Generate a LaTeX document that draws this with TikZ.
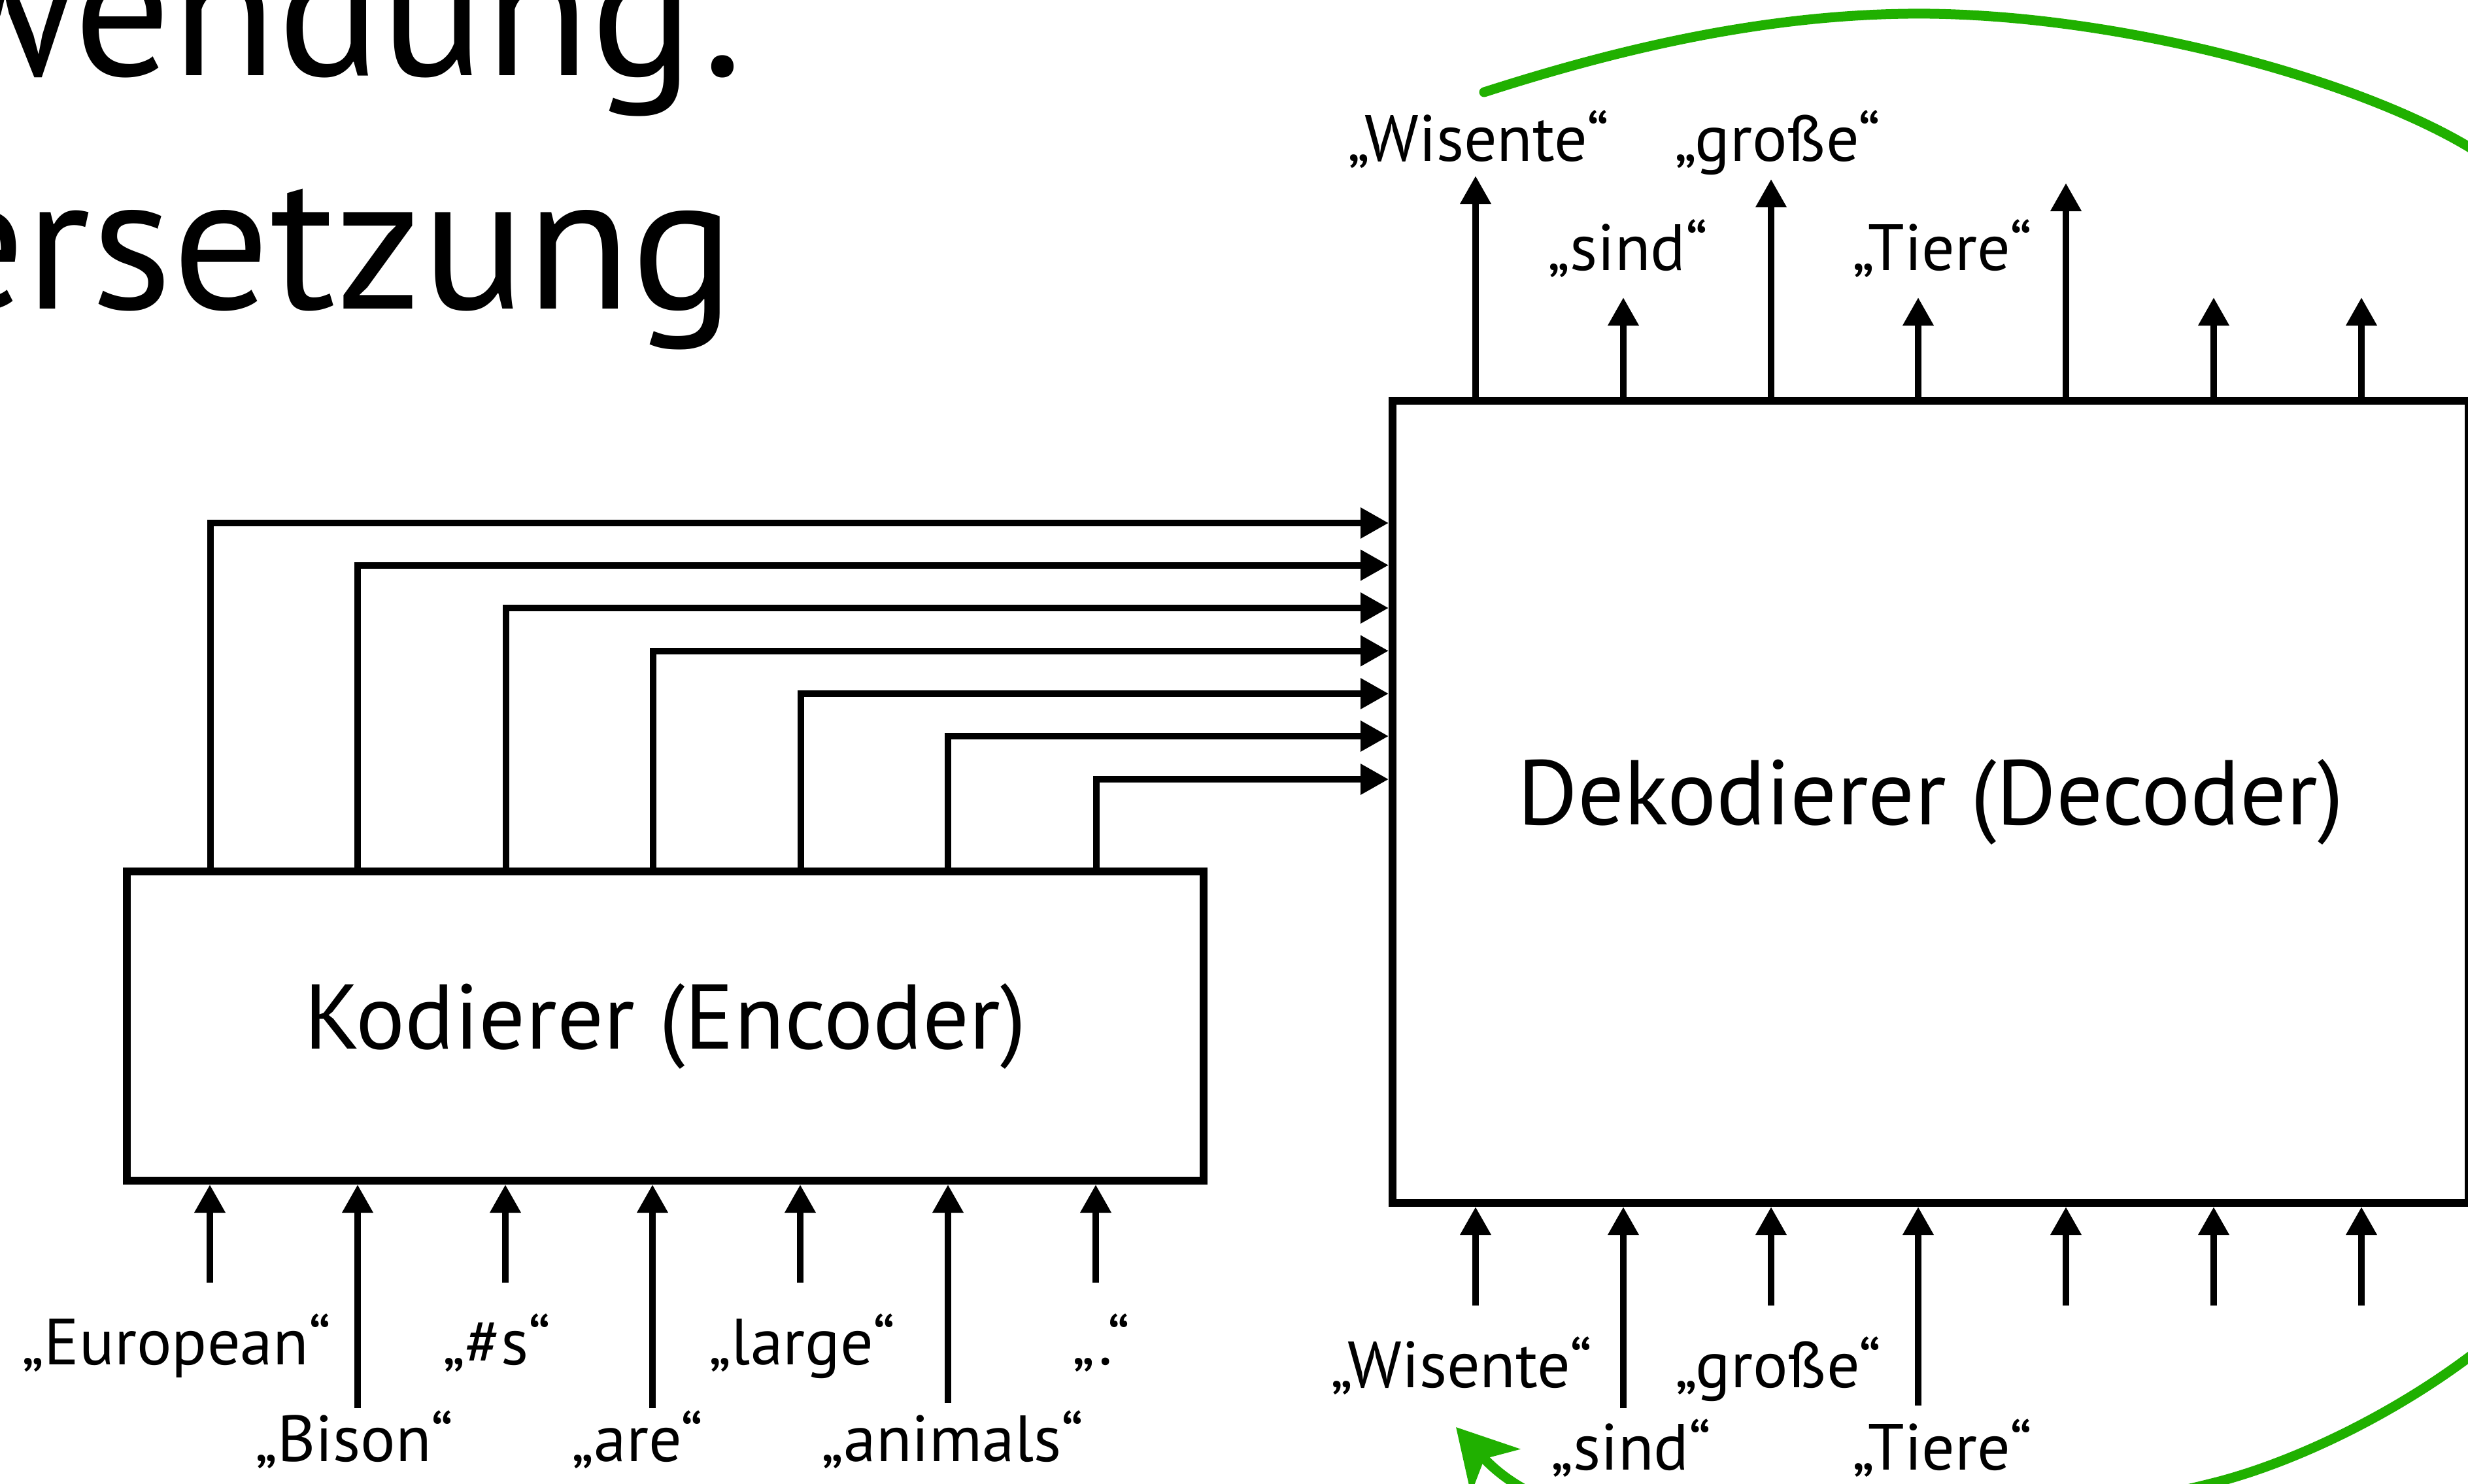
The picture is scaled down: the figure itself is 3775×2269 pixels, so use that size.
\documentclass[tikz,border=0pt]{standalone}
\usepackage{fontspec}
\setmainfont{PT Sans}
\usetikzlibrary{arrows.meta}
\definecolor{chalkgreen}{RGB}{32,176,0}
\begin{document}
\begin{tikzpicture}[x=0.2pt,y=-0.2pt,
  blockbox/.style={draw, line width=2.4pt, inner sep=0pt, font=\fontsize{28.1pt}{30pt}\selectfont},
  conn/.style={line width=2pt, -{Triangle[length=8.6pt,width=9pt]}},
  lbl/.style={inner sep=0pt, anchor=base, font=\fontsize{20pt}{22pt}\selectfont},
  ttl/.style={inner sep=0pt, anchor=base east, font=\fontsize{59pt}{60pt}\selectfont},
  chalk/.style={draw=chalkgreen, line width=3pt, line cap=round, -{Stealth[length=18pt,width=20pt,inset=5pt]}}
]
\useasboundingbox (0,0) rectangle (3775,2269);
\clip (0,0) rectangle (3775,2269);

% title
\node[ttl] (t1) at (1127,115) {Anwendung:};
\node[ttl] (t2) at (1125,472) {Übersetzung};

% blocks
\node[blockbox, minimum width=329.4pt, minimum height=94.6pt] (enc) at (1017.5,1569.5) {Kodierer (Encoder)};
\node[blockbox, minimum width=329.2pt, minimum height=245.4pt] (dec) at (2953,1226.5) {Dekodierer (Decoder)};

% encoder -> decoder
\foreach \i/\x/\y in {1/321.5/800, 2/547/864.5, 3/773.5/930, 4/999/995.5, 5/1224.5/1061, 6/1450/1126, 7/1677/1192} {
  \coordinate (h\i) at (\x,\y);
  \draw[conn] (h\i |- enc.north) |- (dec.west |- h\i);
}

% encoder inputs
\foreach \i/\x/\y in {1/321/1962, 2/547/2154, 3/773/1962, 4/998/2154, 5/1224/1962, 6/1450/2146, 7/1676/1962} {
  \coordinate (ei\i) at (\x,\y);
  \draw[conn] (ei\i) -- (ei\i |- enc.south);
}

% decoder inputs
\foreach \i/\x/\y in {1/2257/1997, 2/2483/2154, 3/2709/1997, 4/2934/2150, 5/3160/1997, 6/3386/1997, 7/3612/1997} {
  \coordinate (di\i) at (\x,\y);
  \draw[conn] (di\i) -- (di\i |- dec.south);
}

% decoder outputs
\foreach \i/\x/\y in {1/2257/269, 2/2483/455, 3/2709/274, 4/2934/455, 5/3160/280, 6/3386/455, 7/3612/455} {
  \coordinate (do\i) at (\x,\y);
  \draw[conn] (do\i |- dec.north) -- (do\i);
}

% encoder input labels
\node[lbl] (l1) at (270,2087) {„European“};
\node[lbl] (l2) at (542,2235) {„Bison“};
\node[lbl] (l3) at (760,2087) {„\#s“};
\node[lbl] (l4) at (975,2235) {„are“};
\node[lbl] (l5) at (1227,2087) {„large“};
\node[lbl] (l6) at (1457,2235) {„animals“};
\node[lbl] (l7) at (1684,2087) {„.“};

% decoder input labels
\node[lbl] (b1) at (2235,2122) {„Wisente“};
\node[lbl] (b2) at (2495,2248) {„sind“};
\node[lbl] (b3) at (2720,2122) {„große“};
\node[lbl] (b4) at (2971,2248) {„Tiere“};

% decoder output labels
\node[lbl] (o1) at (2261,246) {„Wisente“};
\node[lbl] (o2) at (2490,413) {„sind“};
\node[lbl] (o3) at (2719,246) {„große“};
\node[lbl] (o4) at (2971,413) {„Tiere“};

% green loop
\draw[chalk] (2270,141) .. controls (2460,80) and (2700,18) .. (2953,21)
  .. controls (3250,25) and (3600,120) .. (3775,224)
  .. controls (3950,330) and (4100,800) .. (4100,1150)
  .. controls (4100,1600) and (3950,1950) .. (3775,2077)
  .. controls (3650,2170) and (3500,2240) .. (3383,2269)
  .. controls (3050,2352) and (2440,2420) .. (2227,2183);
\end{tikzpicture}
\end{document}
